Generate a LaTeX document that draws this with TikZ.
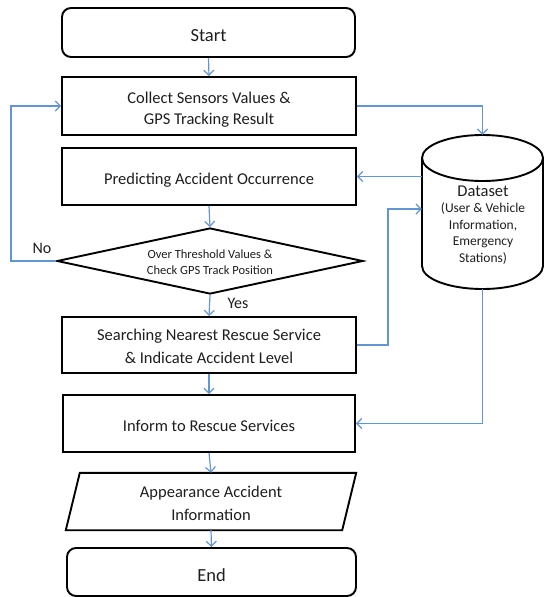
\documentclass[tikz,border=0pt]{standalone}
\usepackage{fontspec}
\setmainfont{Carlito}
\usetikzlibrary{shapes.geometric,arrows.meta,calc}
\definecolor{arrowblue}{RGB}{98,150,210}
\definecolor{txt}{RGB}{30,30,30}
\tikzset{
  procbox/.style={draw=black, line width=1.9pt, minimum width=294pt, minimum height=57pt, inner sep=0pt, align=center, font=\fontsize{16.5}{22}\selectfont, text=txt, text height=18pt},
  termbox/.style={procbox, rounded corners=9pt, minimum height=49pt, font=\fontsize{18.5}{22}\selectfont, text height=19pt},
  flow/.style={draw=arrowblue, line width=1.2pt, -{Straight Barb[length=5pt,width=10pt]}},
  lbl/.style={font=\fontsize{16}{18}\selectfont, text=txt, inner sep=0pt}
}
\begin{document}
\begin{tikzpicture}[x=1pt,y=-1pt]
\useasboundingbox (0,0) rectangle (544,597);
% nodes
\node[termbox, minimum width=293pt] (start) at (208.5,32.5) {Start};
\node[procbox, minimum height=58pt, font=\fontsize{16.5}{21}\selectfont, text height=39pt] (collect) at (209,106) {Collect Sensors Values \&\\GPS Tracking Result};
\node[procbox] (predict) at (209,176.5) {Predicting Accident Occurrence};
\node[diamond, draw=black, line width=1.9pt, minimum width=306pt, minimum height=66pt, inner sep=0pt] (dec) at (210,261) {};
\node[align=center, text=txt, font=\fontsize{12.5}{16}\selectfont, inner sep=0pt] (dectext) at (210,262) {Over Threshold Values \&\\Check GPS Track Position};
\node[procbox, minimum height=56pt, font=\fontsize{16.5}{23}\selectfont, text height=37pt] (search) at (209,345) {Searching Nearest Rescue Service\\\& Indicate Accident Level};
\node[procbox, minimum width=292pt, text height=17pt] (inform) at (209,423.5) {Inform to Rescue Services};
\node[minimum width=276pt, minimum height=57pt, inner sep=0pt, align=center, text=txt, font=\fontsize{16.5}{23}\selectfont, text height=39pt] (app) at (211,501.5) {Appearance Accident\\Information};
\draw[line width=1.9pt, line join=miter] ([xshift=7pt]app.north west) -- ([xshift=7pt]app.north east) -- ([xshift=-7pt]app.south east) -- ([xshift=-7pt]app.south west) -- cycle;
\node[termbox, minimum width=289pt, minimum height=48pt] (end) at (211.5,572) {End};
% cylinder
\node[minimum width=121pt, minimum height=154pt, inner sep=0pt] (db) at (482.5,212) {};
\draw[line width=1.9pt] (422,158) -- (422,266) arc[start angle=180, end angle=360, x radius=60.5pt, y radius=23pt] -- (543,158);
\draw[line width=1.9pt] (482.5,158) ellipse [x radius=60.5pt, y radius=23pt];
\node[align=center, text=txt, inner sep=0pt, font=\fontsize{13.5}{16.5}\selectfont] (dbtext) at (483,225) {{\fontsize{16.5}{16.5}\selectfont Dataset}\\(User \& Vehicle\\Information,\\Emergency\\Stations)};
% coordinates
\coordinate (loopx) at (11,261);
\coordinate (bend) at (388,209);
% connectors
\draw[flow] (start.south) -- (collect.north);
\draw[flow] (collect.south |- predict.south) -- (dec.north);
\draw[flow] (dec.south) -- (search.north);
\draw[flow] (search.south) -- (inform.north);
\draw[flow] (inform.south) -- (app.north);
\draw[flow] (app.south) -- (end.north);
\draw[flow] (dec.west) -- (loopx) |- (collect.west);
\draw[flow] (collect.east) -| (db.north);
\draw[flow] (predict.east -| db.west) -- (predict.east);
\draw[flow] (search.east) -| (bend) -- (bend -| db.west);
\draw[flow] (db.south) |- (inform.east);
% labels
\node[lbl] (no) at (42,248) {No};
\node[lbl] (yes) at (238,303) {Yes};
\end{tikzpicture}
\end{document}
